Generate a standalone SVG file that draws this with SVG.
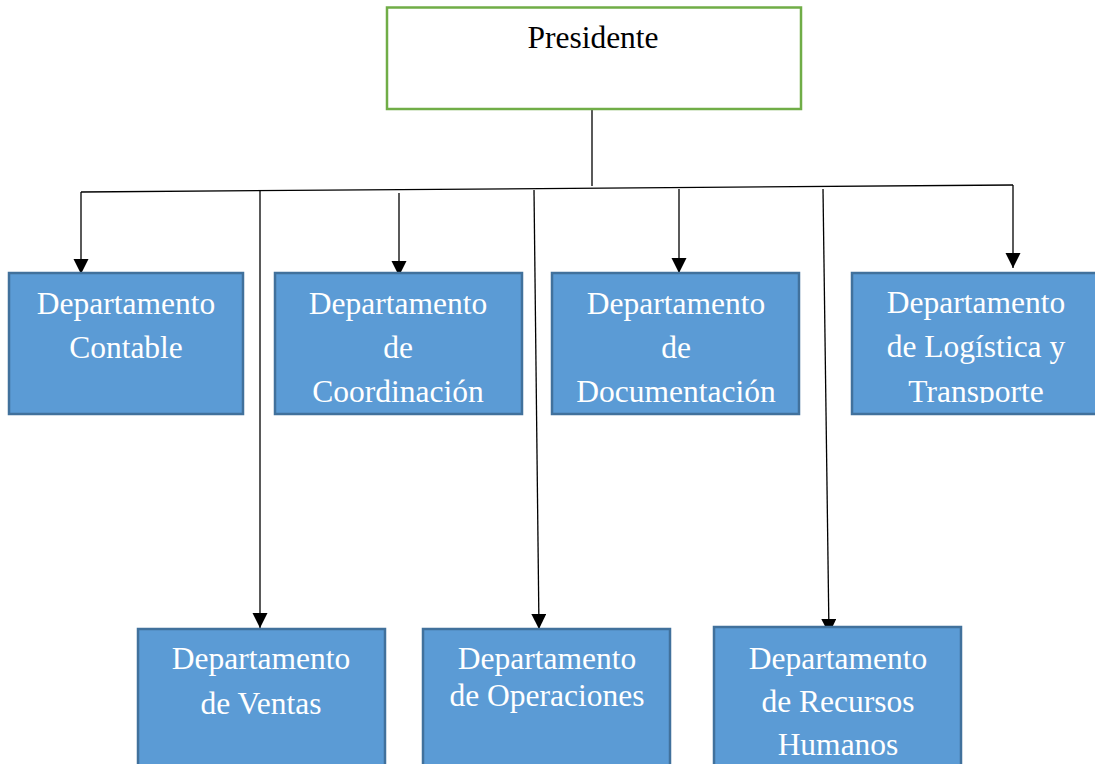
<svg xmlns="http://www.w3.org/2000/svg" width="1095" height="764" viewBox="0 0 1095 764">
<style>
.dept{fill:#5b9bd5;stroke:#41719c;stroke-width:2.5}
.dt{font-family:"Liberation Serif","Times New Roman",serif;font-size:31.5px;fill:#ffffff;text-anchor:middle}
.pt{font-family:"Liberation Serif","Times New Roman",serif;font-size:31.5px;fill:#000000;text-anchor:middle}
.ln{stroke:#000;stroke-width:1.3;fill:none}
</style>
<defs>
<marker id="ah" markerUnits="userSpaceOnUse" markerWidth="16" markerHeight="16" refX="15" refY="7.5" orient="auto">
<path d="M0,0 L15,7.5 L0,15 z" fill="#000"/>
</marker>
<clipPath id="topclip"><rect x="0" y="270" width="1095" height="133"/></clipPath>
</defs>
<rect width="1095" height="764" fill="#ffffff"/>
<g id="connectors">
<line class="ln" x1="592" y1="109" x2="592" y2="186"/>
<line class="ln" x1="81" y1="192" x2="1013" y2="185"/>
<line class="ln" x1="81" y1="192" x2="81" y2="274" marker-end="url(#ah)"/>
<line class="ln" x1="260" y1="191" x2="260" y2="628" marker-end="url(#ah)"/>
<line class="ln" x1="399" y1="193" x2="399" y2="276" marker-end="url(#ah)"/>
<line class="ln" x1="534" y1="190" x2="539" y2="629" marker-end="url(#ah)"/>
<line class="ln" x1="679" y1="189" x2="679" y2="273" marker-end="url(#ah)"/>
<line class="ln" x1="823" y1="189" x2="829" y2="634" marker-end="url(#ah)"/>
<line class="ln" x1="1013" y1="185" x2="1013" y2="268" marker-end="url(#ah)"/>
</g>
<g id="presidente">
<rect x="387" y="7.5" width="414" height="101.5" fill="#ffffff" stroke="#70ad47" stroke-width="2.5"/>
<text class="pt" x="593" y="48">Presidente</text>
</g>
<g id="contable">
<rect class="dept" x="9" y="273" width="234" height="141"/>
<text class="dt" x="126" y="314">Departamento</text>
<text class="dt" x="126" y="358">Contable</text>
</g>
<g id="coordinacion">
<rect class="dept" x="275" y="273" width="247" height="141"/>
<g clip-path="url(#topclip)">
<text class="dt" x="398" y="314">Departamento</text>
<text class="dt" x="398" y="358">de</text>
<text class="dt" x="398" y="402">Coordinación</text>
</g>
</g>
<g id="documentacion">
<rect class="dept" x="552" y="273" width="247" height="141"/>
<g clip-path="url(#topclip)">
<text class="dt" x="676" y="314">Departamento</text>
<text class="dt" x="676" y="358">de</text>
<text class="dt" x="676" y="402">Documentación</text>
</g>
</g>
<g id="logistica">
<rect class="dept" x="852" y="273" width="250" height="141"/>
<g clip-path="url(#topclip)">
<text class="dt" x="976" y="313">Departamento</text>
<text class="dt" x="976" y="357">de Logística y</text>
<text class="dt" x="976" y="402">Transporte</text>
</g>
</g>
<g id="ventas">
<rect class="dept" x="138" y="629" width="247" height="140"/>
<text class="dt" x="261" y="669">Departamento</text>
<text class="dt" x="261" y="714">de Ventas</text>
</g>
<g id="operaciones">
<rect class="dept" x="423" y="629" width="247" height="140"/>
<text class="dt" x="547" y="669">Departamento</text>
<text class="dt" x="547" y="706">de Operaciones</text>
</g>
<g id="recursos">
<rect class="dept" x="714" y="627" width="247" height="142"/>
<text class="dt" x="838" y="669">Departamento</text>
<text class="dt" x="838" y="712">de Recursos</text>
<text class="dt" x="838" y="755">Humanos</text>
</g>
</svg>
